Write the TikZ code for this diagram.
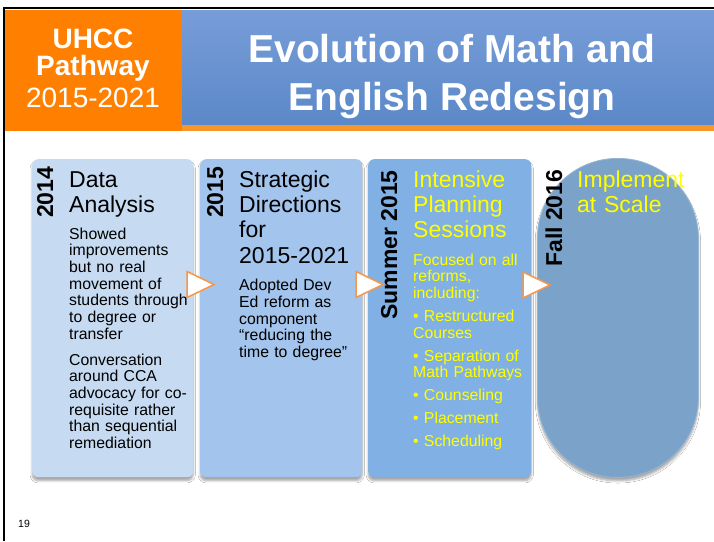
\documentclass[tikz,border=0pt]{standalone}
\usepackage{fontspec}
\setmainfont{Liberation Sans}
\usetikzlibrary{shadows.blur,shapes.geometric}
\definecolor{hdrorange}{HTML}{FF8000}
\definecolor{stripe}{HTML}{F7962B}
\definecolor{bantop}{HTML}{779DD8}
\definecolor{banbot}{HTML}{5B88C8}
\definecolor{cA}{HTML}{C6DAF1}
\definecolor{cB}{HTML}{A3C4EC}
\definecolor{cC}{HTML}{80B0E4}
\definecolor{cD}{HTML}{7BA3CA}
\definecolor{triorange}{HTML}{F79646}
\definecolor{yel}{HTML}{FFFF00}
\tikzset{
  stagebox/.style={anchor=north west, inner sep=0pt, rounded corners=6pt,
    blur shadow={shadow xshift=0pt, shadow yshift=-3.5pt, shadow blur steps=6, shadow opacity=35}},
  yearlbl/.style={rotate=90, anchor=base west, inner sep=0pt, font=\fontsize{23}{25}\selectfont\bfseries},
  ttl/.style={anchor=north west, inner sep=0pt, align=left, text width=150pt, font=\fontsize{23}{25.3}\selectfont},
  body/.style={anchor=north west, inner sep=0pt, align=left, text width=150pt, font=\fontsize{15.8}{16.7}\selectfont},
  tri/.style={isosceles triangle, isosceles triangle stretches, minimum width=26pt, minimum height=27pt,
    inner sep=0pt, outer sep=0pt, anchor=west, fill=white, draw=triorange, line width=1.5pt, line join=miter},
  hdr/.style={anchor=base, inner sep=0pt, text=white},
}
\begin{document}
\begin{tikzpicture}[x=1pt,y=-1pt]
\useasboundingbox (0,0) rectangle (714,541);
\fill[white] (0,0) rectangle (714,541);

% header
\node[anchor=north west, inner sep=0pt, fill=hdrorange, minimum width=177pt, minimum height=121pt] (logo) at (5,10) {};
\node[anchor=north west, inner sep=0pt, top color=bantop, bottom color=banbot, minimum width=532pt, minimum height=115pt] (banner) at (182,10) {};
\node[anchor=north west, inner sep=0pt, fill=stripe, minimum width=532pt, minimum height=6pt] (stripebar) at (182,125) {};
\coordinate (fb) at (4,541);
\coordinate (fc) at (4,8);
\coordinate (fr) at (714,8);
\draw[black, line width=2.2pt] (fb) -- (fc) -- (fr);

\node[hdr, font=\fontsize{28}{30}\selectfont\bfseries] (l1) at (93,48) {UHCC};
\node[hdr, font=\fontsize{28}{30}\selectfont\bfseries] (l2) at (93,75) {Pathway};
\node[hdr, font=\fontsize{28}{30}\selectfont] (l3) at (93,107) {2015-2021};
\node[hdr, font=\fontsize{39}{44}\selectfont\bfseries] (t1) at (452,62) {Evolution of Math and};
\node[hdr, font=\fontsize{39}{44}\selectfont\bfseries] (t2) at (452,110) {English Redesign};

% stage boxes
\node[stagebox, fill=cA, minimum width=161pt, minimum height=318pt] (b1) at (32,159) {};
\node[stagebox, fill=cB, minimum width=162pt, minimum height=318pt] (b2) at (200,159) {};
\node[stagebox, fill=cC, minimum width=163pt, minimum height=318pt] (b3) at (368,159) {};
\node[stagebox, fill=cD, draw=cD!80!white, line width=0.8pt, rounded corners=80pt, minimum width=161pt, minimum height=319pt] (b4) at (537,158) {};

% arrows
\node[tri] (a1) at (187,284.5) {};
\node[tri] (a2) at (356,284.5) {};
\node[tri] (a3) at (523,285) {};

% box 1
\node[yearlbl] (y1) at (53,218) {2014};
\node[ttl] (h1) at (69,169.3) {\strut Data\\Analysis};
\node[body] (p1) at (69,227.3) {\strut Showed\\improvements\\but no real\\movement of\\students through\\to degree or\\transfer\\[9pt]Conversation\\around CCA\\advocacy for co-\\requisite rather\\than sequential\\remediation};

% box 2
\node[yearlbl] (y2) at (223,218) {2015};
\node[ttl] (h2) at (239,169.3) {\strut Strategic\\Directions\\for\\2015-2021};
\node[body, font=\fontsize{15.8}{16.9}\selectfont] (p2) at (239,278.2) {\strut Adopted Dev\\Ed reform as\\component\\“reducing the\\time to degree”};

% box 3
\node[yearlbl] (y3) at (397,320) {Summer 2015};
\node[ttl, text=yel] (h3) at (413,169.3) {\strut Intensive\\Planning\\Sessions};
\node[body, text=yel] (p3) at (413,253.3) {\strut Focused on all\\reforms,\\including:\\[6.3pt]• Restructured\\Courses\\[6.3pt]• Separation of\\Math Pathways\\[6.3pt]• Counseling\\[6.3pt]• Placement\\[6.3pt]• Scheduling};

% box 4
\node[yearlbl] (y4) at (562,267) {Fall 2016};
\node[ttl, text=yel] (h4) at (577,169.3) {\strut Implement\\at Scale};

% page number
\node[anchor=base west, inner sep=0pt, font=\fontsize{10.5}{12}\selectfont] (pg) at (18,527) {19};
\end{tikzpicture}
\end{document}
